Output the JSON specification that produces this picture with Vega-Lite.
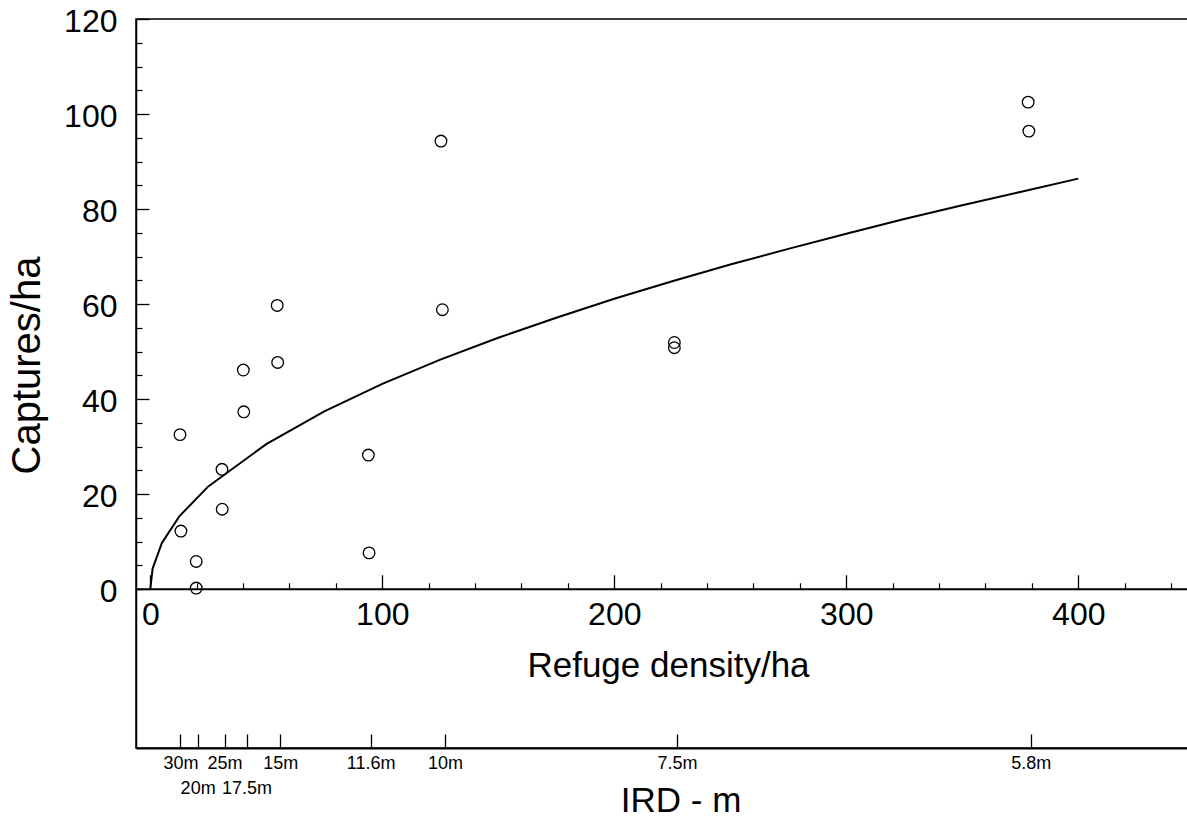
{
  "$schema": "https://vega.github.io/schema/vega-lite/v6.json",
  "width": 1052,
  "height": 729,
  "autosize": {"type": "none"},
  "padding": {"left": 136, "top": 19, "right": 0, "bottom": 71},
  "background": "white",
  "config": {
    "view": {"stroke": "black", "strokeWidth": 1.5},
    "font": "Liberation Sans",
    "axis": {
      "labelFont": "Liberation Sans",
      "titleFont": "Liberation Sans",
      "labelColor": "black",
      "titleColor": "black",
      "domainColor": "black",
      "tickColor": "black",
      "titleFontWeight": "normal",
      "grid": false,
      "labelOverlap": false,
      "labelFlush": false,
      "labelBound": false
    }
  },
  "datasets": {
    "obs": [
      {"density": 12.8, "captures": 32.5},
      {"density": 13.2, "captures": 12.2},
      {"density": 19.8, "captures": 5.8},
      {"density": 19.8, "captures": 0.2},
      {"density": 30.9, "captures": 25.2},
      {"density": 31.0, "captures": 16.8},
      {"density": 40.1, "captures": 46.1},
      {"density": 40.3, "captures": 37.3},
      {"density": 54.7, "captures": 59.7},
      {"density": 54.9, "captures": 47.7},
      {"density": 94.0, "captures": 28.2},
      {"density": 94.3, "captures": 7.6},
      {"density": 125.3, "captures": 94.3},
      {"density": 125.9, "captures": 58.8},
      {"density": 225.9, "captures": 51.9},
      {"density": 225.9, "captures": 50.8},
      {"density": 378.4, "captures": 102.5},
      {"density": 378.7, "captures": 96.4}
    ],
    "fit": [
      {"density": 0, "captures": 0},
      {"density": 1, "captures": 4.3},
      {"density": 5, "captures": 9.7},
      {"density": 12.5, "captures": 15.3},
      {"density": 25, "captures": 21.6},
      {"density": 50, "captures": 30.5},
      {"density": 75, "captures": 37.4},
      {"density": 100, "captures": 43.2},
      {"density": 125, "captures": 48.3},
      {"density": 150, "captures": 52.9},
      {"density": 175, "captures": 57.1},
      {"density": 200, "captures": 61.1},
      {"density": 225, "captures": 64.8},
      {"density": 250, "captures": 68.3},
      {"density": 275, "captures": 71.6},
      {"density": 300, "captures": 74.8},
      {"density": 325, "captures": 77.9},
      {"density": 350, "captures": 80.8},
      {"density": 375, "captures": 83.6},
      {"density": 400, "captures": 86.4}
    ]
  },
  "layer": [
    {
      "data": {"name": "obs"},
      "mark": {"type": "point", "shape": "circle", "size": 135, "strokeWidth": 1.3, "color": "black", "filled": false, "opacity": 1},
      "encoding": {
        "x": {
          "field": "density", "type": "quantitative",
          "scale": {"domain": [-6.16, 447.3], "nice": false, "zero": false},
          "axis": {
            "orient": "bottom", "offset": -159.2,
            "values": [0, 100, 200, 300, 400],
            "tickSize": -14, "tickWidth": 1.3, "domainWidth": 2,
            "labelFontSize": 32, "labelPadding": 25,
            "title": "Refuge density/ha", "titleFontSize": 35,
            "titleX": 532, "titleY": 88, "titleBaseline": "alphabetic", "titleAlign": "center"
          }
        },
        "y": {
          "field": "captures", "type": "quantitative",
          "scale": {"domain": [-33.47, 120], "nice": false, "zero": false},
          "axis": {
            "orient": "left",
            "values": [0, 20, 40, 60, 80, 100, 120],
            "tickSize": -13, "tickWidth": 1.3, "domainWidth": 1.5,
            "labelFontSize": 32, "labelPadding": 32, "labelOffset": 2,
            "title": "Captures/ha", "titleFontSize": 40, "titleX": -109, "titleY": 346,
            "titleAngle": 270, "titleBaseline": "middle", "titleAlign": "center"
          }
        }
      }
    },
    {
      "data": {"name": "fit"},
      "mark": {"type": "line", "color": "black", "strokeWidth": 2},
      "encoding": {
        "x": {
          "field": "density", "type": "quantitative",
          "axis": {
            "orient": "bottom", "offset": -159.2,
            "values": [20, 40, 60, 80, 120, 140, 160, 180, 220, 240, 260, 280, 320, 340, 360, 380, 420, 440],
            "tickSize": -6, "tickWidth": 1.2, "labels": false, "domain": false, "title": null
          }
        },
        "y": {
          "field": "captures", "type": "quantitative",
          "axis": {
            "orient": "left",
            "values": [5, 10, 15, 25, 30, 35, 45, 50, 55, 65, 70, 75, 85, 90, 95, 105, 110, 115],
            "tickSize": -6, "tickWidth": 1.2, "labels": false, "domain": false, "title": null
          }
        }
      }
    },
    {
      "data": {"name": "obs"},
      "mark": {"type": "point", "opacity": 0},
      "encoding": {
        "x": {
          "field": "density", "type": "quantitative",
          "axis": {
            "orient": "bottom", "offset": 0,
            "values": [13, 20.4, 32, 41.5, 56, 95, 127, 227, 379.5],
            "labelExpr": "datum.value == 13 ? '30m' : datum.value == 20.4 ? ['', '20m'] : datum.value == 32 ? '25m' : datum.value == 41.5 ? ['', '17.5m'] : datum.value == 56 ? '15m' : datum.value == 95 ? '11.6m' : datum.value == 127 ? '10m' : datum.value == 227 ? '7.5m' : '5.8m'",
            "tickSize": -14, "tickWidth": 1.3, "domainWidth": 2,
            "labelFontSize": 18, "labelLineHeight": 25, "labelPadding": 20,
            "title": "IRD - m", "titleFontSize": 35,
            "titleX": 544.6, "titleY": 63, "titleBaseline": "alphabetic", "titleAlign": "center"
          }
        },
        "y": {"field": "captures", "type": "quantitative", "axis": null}
      }
    }
  ],
  "resolve": {"axis": {"x": "independent", "y": "independent"}}
}
